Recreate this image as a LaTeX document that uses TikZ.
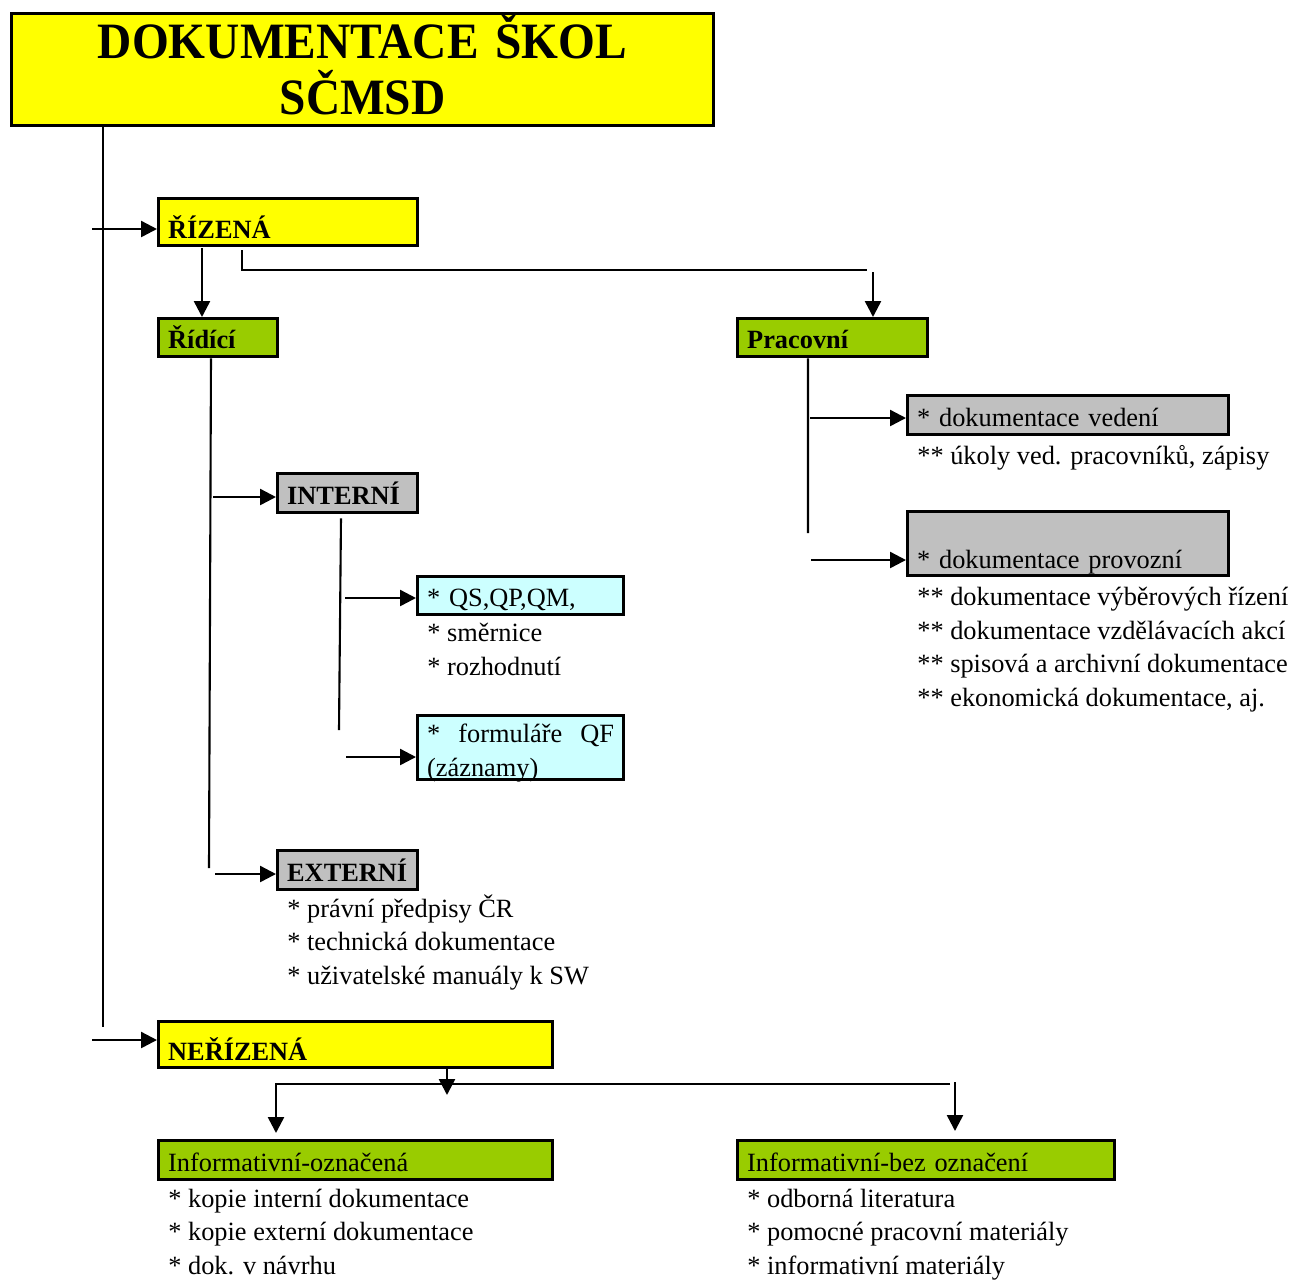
\documentclass[tikz,border=0pt]{standalone}
\usepackage{fontspec}
\setmainfont{Liberation Serif}
\newfontfamily\titulpismo[FakeStretch=0.93]{Liberation Serif}
\usetikzlibrary{arrows.meta}
\definecolor{zluta}{HTML}{FFFF00}
\definecolor{zelena}{HTML}{99CC00}
\definecolor{seda}{HTML}{C0C0C0}
\definecolor{modra}{HTML}{CCFFFF}
\begin{document}
\begin{tikzpicture}[
    x=0.02cm, y=-0.02cm,
    krabice/.style={draw, line width=1.9pt, anchor=north west, inner xsep=0.19cm, inner ysep=0pt,
        align=left, text depth=0.16cm, font=\fontsize{15pt}{19pt}\selectfont},
    tucna/.style={krabice, font=\fontsize{15pt}{19pt}\selectfont\bfseries},
    seznam/.style={anchor=base west, inner sep=0pt, align=left, font=\fontsize{15pt}{19pt}\selectfont},
    spoj/.style={line width=1.2pt},
    sipka/.style={spoj, line width=1.4pt, -{Triangle[length=0.32cm,width=0.32cm]}}
]
\useasboundingbox (0,0) rectangle (1295,1279);

% Nadpis
\node[krabice, fill=zluta, align=center, text width=13.66cm, text height=0.9cm, text depth=1.34cm,
    font=\titulpismo\bfseries\fontsize{29pt}{31.9pt}\selectfont] at (10,12) (titul) {DOKUMENTACE ŠKOL\\SČMSD};

% Hlavni kmen
\coordinate (kmen) at (103,1027);
\draw[spoj] (titul.south -| kmen) -- (kmen);

% Rizena dokumentace
\node[tucna, fill=zluta, text width=4.8cm, text height=0.8cm, text depth=0.14cm] at (157,197) (rizena) {ŘÍZENÁ};
\coordinate (vstupR) at (92,229);
\draw[sipka] (vstupR) -- (vstupR -| rizena.west);

\node[tucna, fill=zelena, text width=2.0cm, text height=0.6cm] at (157,317) (ridici) {Řídící};
\node[tucna, fill=zelena, text width=3.42cm, text height=0.6cm] at (736,317) (pracovni) {Pracovní};

\coordinate (r1) at (202,248);
\draw[sipka] (r1) -- (r1 |- ridici.north);
\coordinate (p1) at (242,250);
\coordinate (p2) at (867,270);
\draw[spoj] (p1) |- (p2);
\coordinate (p3) at (873,272);
\draw[sipka] (p3) -- (p3 |- pracovni.north);

% Ridici: interni a externi
\node[tucna, fill=seda, text width=2.42cm, text height=0.62cm] at (276,472) (interni) {INTERNÍ};
\node[tucna, fill=seda, text width=2.42cm, text height=0.62cm] at (276,849) (externi) {EXTERNÍ};
\coordinate (rkmen) at (209,868);
\draw[spoj] ([xshift=1.08cm]ridici.south west) -- (rkmen);
\coordinate (i0) at (213,497);
\draw[sipka] (i0) -- (i0 -| interni.west);
\coordinate (e0) at (215,874);
\draw[sipka] (e0) -- (e0 -| externi.west);

\node[seznam] at (287,984) (externiseznam) {* právní předpisy ČR\\* technická dokumentace\\* uživatelské manuály k SW};

% Interni
\node[krabice, fill=modra, text width=3.74cm, text height=0.6cm] at (416,575) (qs) {* QS,QP,QM,};
\node[krabice, fill=modra, text width=3.74cm, text height=0.54cm, text depth=0.74cm] at (416,714) (formulare) {*\hfill formuláře\hfill QF\\(záznamy)};
\coordinate (ikmen) at (339,730);
\draw[spoj] ([xshift=1.3cm,yshift=-0.08cm]interni.south west) -- (ikmen);
\coordinate (q0) at (345,598);
\draw[sipka] (q0) -- (q0 -| qs.west);
\coordinate (f0) at (346,757);
\draw[sipka] (f0) -- (f0 -| formulare.west);

\node[seznam] at (427,675) (qsseznam) {* směrnice\\* rozhodnutí};

% Pracovni
\node[krabice, fill=seda, text width=6.04cm, text height=0.62cm] at (906,394) (vedeni) {* dokumentace vedení};
\node[krabice, fill=seda, text width=6.04cm, text height=1.14cm, text depth=0.14cm] at (906,510) (provozni) {* dokumentace provozní};
\coordinate (pkmen) at (808,533);
\draw[spoj] ([xshift=1.44cm]pracovni.south west) -- (pkmen);
\coordinate (v0) at (810,418);
\draw[sipka] (v0) -- (v0 -| vedeni.west);
\coordinate (o0) at (811,560);
\draw[sipka] (o0) -- (o0 -| provozni.west);

\node[seznam] at (917,464) (vedeniseznam) {** úkoly ved. pracovníků, zápisy};
\node[seznam] at (917,706) (provozniseznam) {** dokumentace výběrových řízení\\** dokumentace vzdělávacích akcí\\** spisová a archivní dokumentace\\** ekonomická dokumentace, aj.};

% Nerizena dokumentace
\node[tucna, fill=zluta, text width=7.5cm, text height=0.78cm, text depth=0.14cm] at (157,1020) (nerizena) {NEŘÍZENÁ};
\coordinate (vstupN) at (92,1040);
\draw[sipka] (vstupN) -- (vstupN -| nerizena.west);

\node[krabice, fill=zelena, text width=7.5cm, text height=0.62cm] at (157,1139) (inflevy) {Informativní-označená};
\node[krabice, fill=zelena, text width=7.16cm, text height=0.62cm] at (736,1139) (infpravy) {Informativní-bez označení};

\coordinate (n0) at (447,1068);
\coordinate (n1) at (447,1095);
\draw[sipka] (n0) -- (n1);
\coordinate (h0) at (276,1084);
\coordinate (h1) at (950,1084);
\draw[sipka, shorten >=0.12cm] (h1) -- (h0) -- (h0 |- inflevy.north);
\coordinate (h2) at (955,1082);
\draw[sipka, shorten >=0.16cm] (h2) -- (h2 |- infpravy.north);

\node[seznam] at (168,1274) (levyseznam) {* kopie interní dokumentace\\* kopie externí dokumentace\\* dok. v návrhu};
\node[seznam] at (747,1274) (pravyseznam) {* odborná literatura\\* pomocné pracovní materiály\\* informativní materiály};
\end{tikzpicture}
\end{document}
